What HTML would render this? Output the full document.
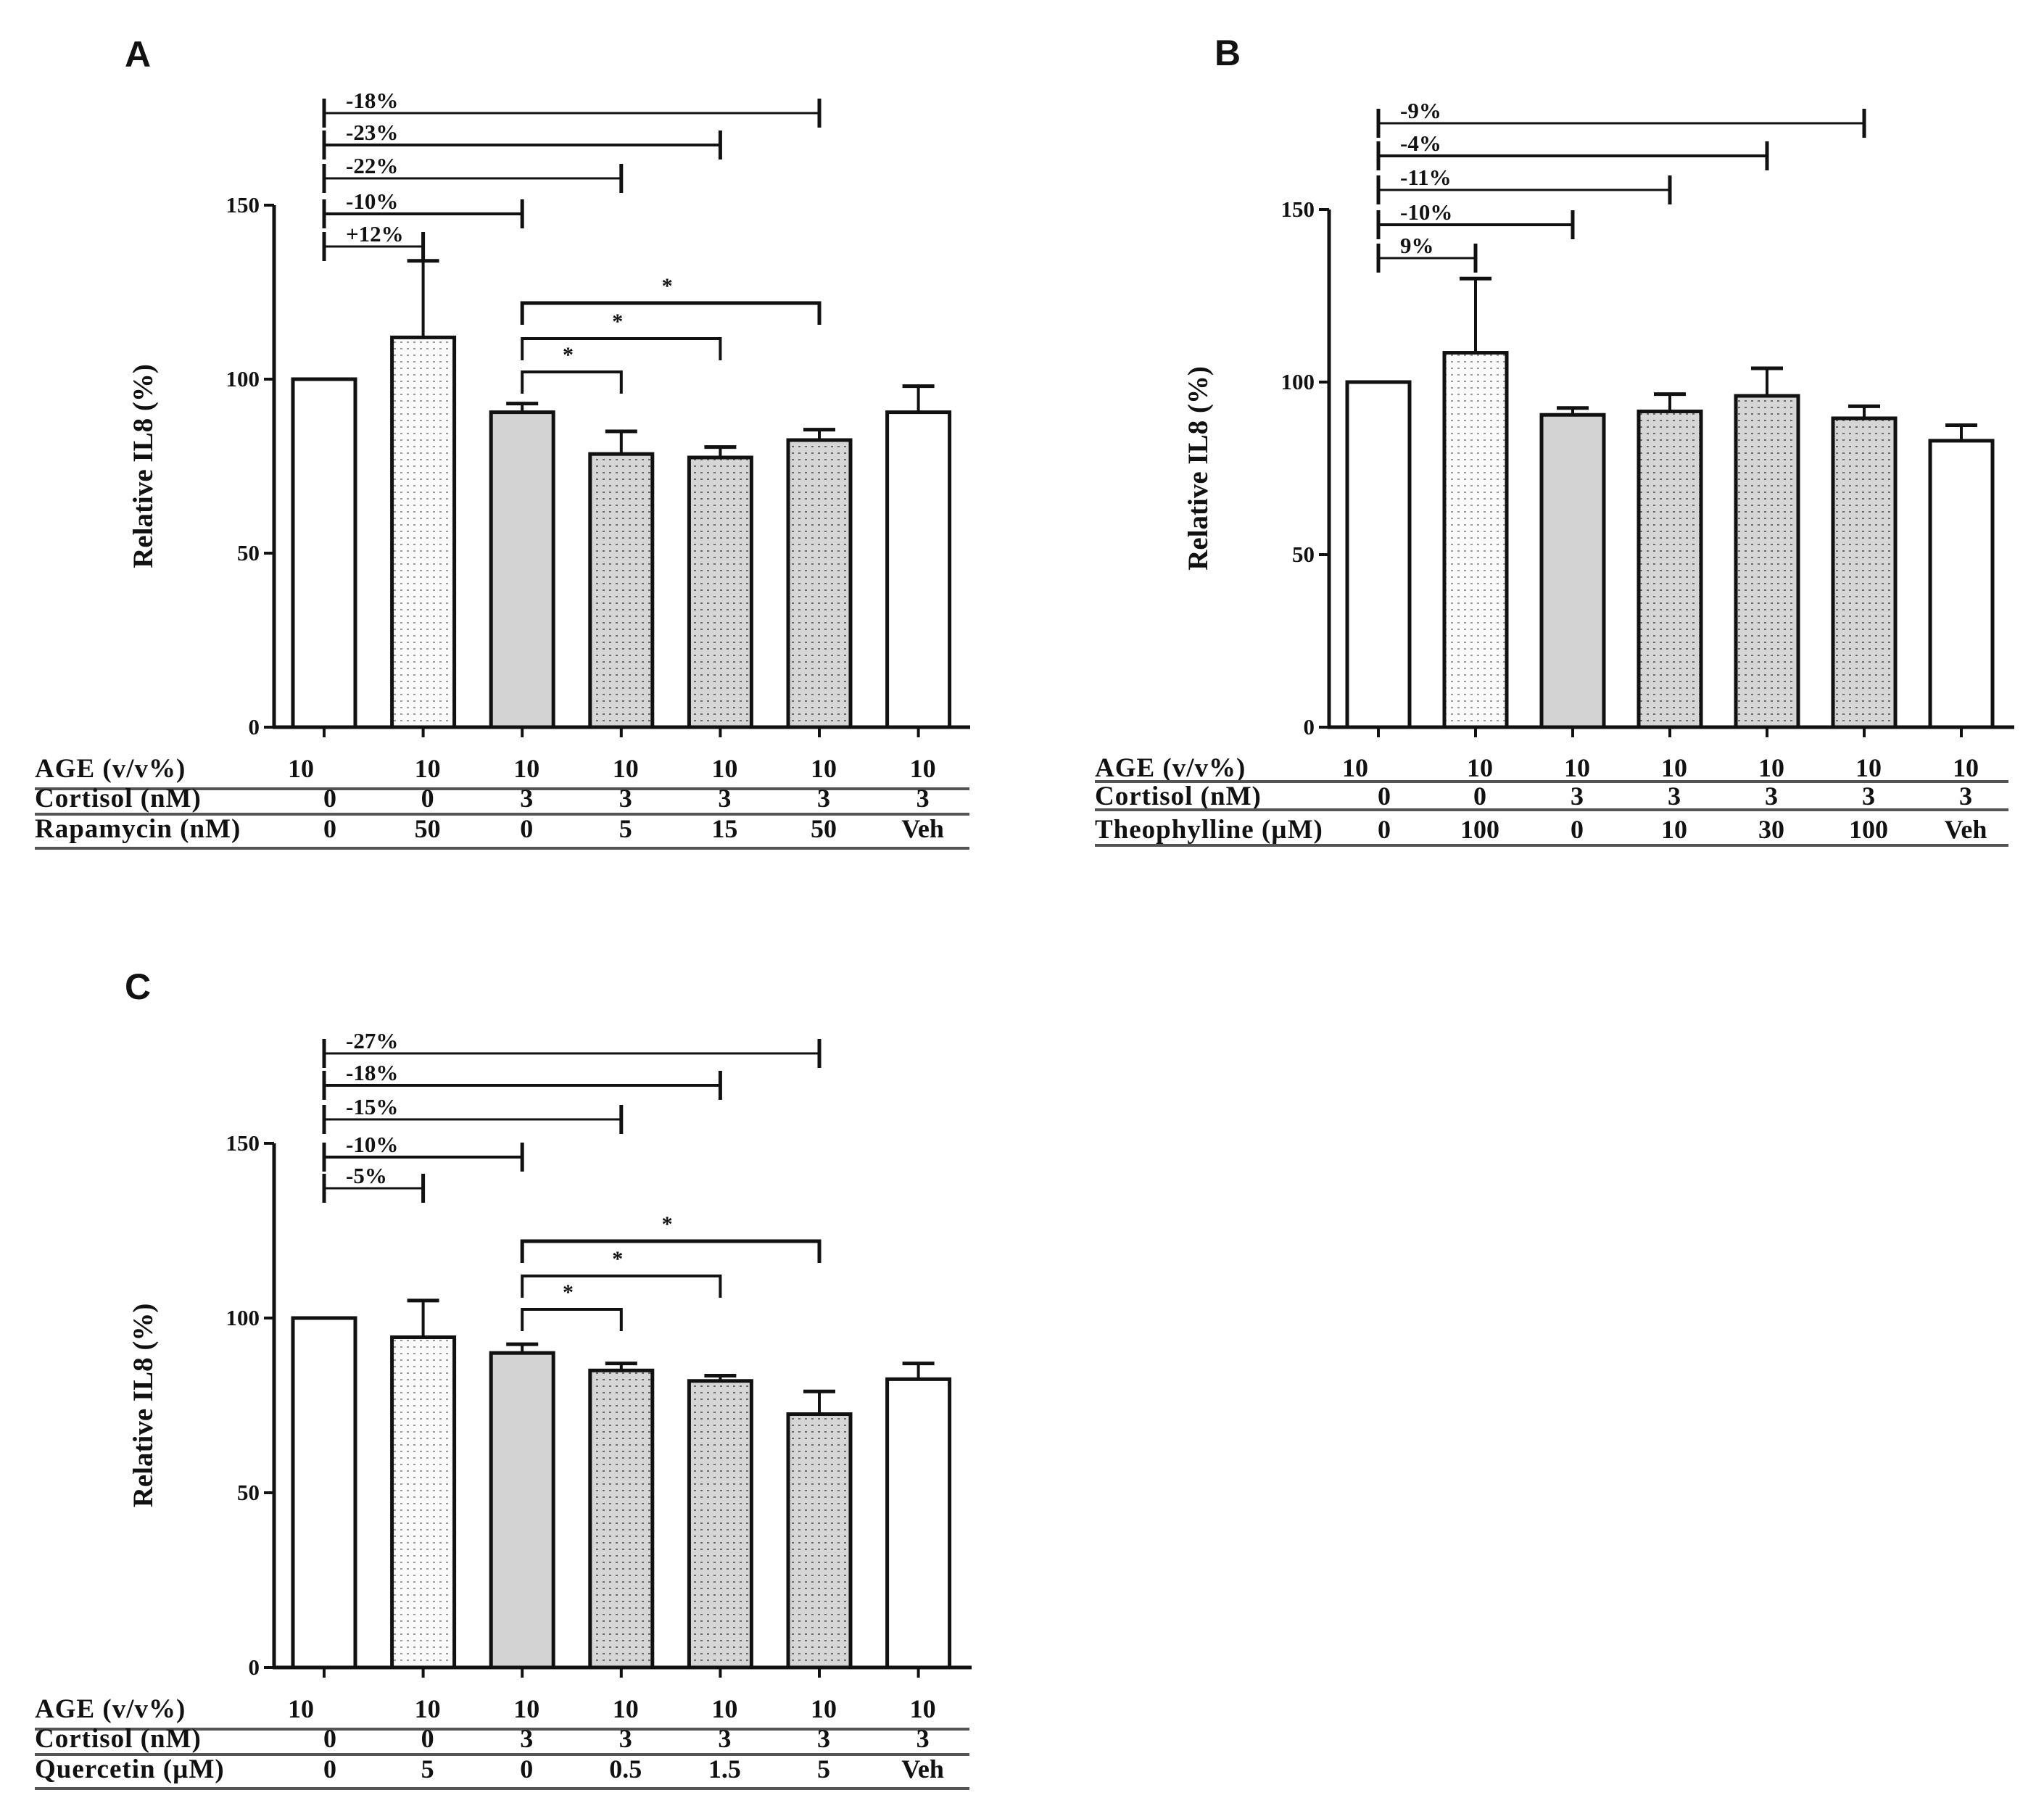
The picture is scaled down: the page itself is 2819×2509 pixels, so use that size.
<!DOCTYPE html>
<html><head><meta charset="utf-8">
<style>
html,body{margin:0;padding:0;background:#fff;}
svg{display:block;}
text{font-family:"Liberation Serif",serif;font-weight:bold;fill:#111;}
.lbl{font-family:"Liberation Sans",sans-serif;}
</style></head>
<body>
<svg id="fig" width="2819" height="2509" viewBox="0 0 2819 2509" xmlns="http://www.w3.org/2000/svg">
<defs>
<pattern id="dotsLight" width="9" height="9" patternUnits="userSpaceOnUse">
<rect width="9" height="9" fill="#fbfbfb"/><rect x="3" y="3" width="3" height="2" fill="#9a9a9a"/>
</pattern>
<pattern id="dotsDark" width="9" height="9" patternUnits="userSpaceOnUse">
<rect width="9" height="9" fill="#d6d6d6"/><rect x="3" y="3" width="3" height="2" fill="#6a6a6a"/>
</pattern>
</defs>
</svg>
<script>
// ---- Panel A data ----
const catsA = ["0","50","0","5","15","50","Veh"];
const valsA = [100,112,90.5,78.5,77.5,82.5,90.5];
const errA = [0,22,2.5,6.5,3,3,7.5];
const pctA = ["+12%","-10%","-22%","-23%","-18%"];
const ageRowA = ["10","10","10","10","10","10","10"];
const cortRowA = ["0","0","3","3","3","3","3"];
// ---- Panel B data ----
const catsB = ["0","100","0","10","30","100","Veh"];
const valsB = [100,108.5,90.5,91.5,96,89.5,83];
const errB = [0,21.5,2,5,8,3.5,4.5];
const pctB = ["9%","-10%","-11%","-4%","-9%"];
// ---- Panel C data ----
const catsC = ["0","5","0","0.5","1.5","5","Veh"];
const valsC = [100,94.5,90,85,82,72.5,82.5];
const errC = [0,10.5,2.5,2,1.5,6.5,4.5];
const pctC = ["-5%","-10%","-15%","-18%","-27%"];
const yTicks = [0,50,100,150];
const fills = ["#fff","url(#dotsLight)","#d3d3d3","url(#dotsDark)","url(#dotsDark)","url(#dotsDark)","#fff"];

const svg = document.getElementById('fig');
const NS = "http://www.w3.org/2000/svg";
function mk(tag, attrs, parent){
  const e = document.createElementNS(NS, tag);
  for (const k in attrs) e.setAttribute(k, attrs[k]);
  (parent||svg).appendChild(e);
  return e;
}
function line(g,x1,y1,x2,y2,w,c){return mk('line',{x1:x1,y1:y1,x2:x2,y2:y2,stroke:c||'#111','stroke-width':w},g);}
function txt(g,x,y,s,size,anchor){const t=mk('text',{x:x,y:y,'font-size':size,'text-anchor':anchor||'middle'},g);t.textContent=s;return t;}

function panel(P){
  const g = mk('g',{});
  
  
  const y = v => P.y0 - (P.y0 - P.y150) * v / 150;
  const x = i => P.x0 + i * P.step;
  const L = txt(g,P.letterX,P.letterY,P.letter,50,'middle');
  L.setAttribute('class','lbl');
  
  
  const ya = line(g,P.axX,y(150),P.axX,P.y0+2,5);
  
  
  yTicks.forEach(t=>{
    line(g,P.axX-14,y(t),P.axX,y(t),4);
    const tl = txt(g,P.axX-20,y(t)+10,String(t),31,'end');
    
    
  });
  const yt = txt(g,0,0,'Relative IL8 (%)',39,'middle');
  yt.setAttribute('transform','translate('+(P.axX-168)+','+(y(75))+') rotate(-90)');
  
  
  const xa = line(g,P.axX-2,P.y0,P.axEnd,P.y0,5);
  
  
  P.vals.forEach((v,i)=>{
    const cx = x(i);
    if (P.err[i] > 0) {
      const e1 = line(g,cx,y(v),cx,y(v+P.err[i]),4);
      
      
      line(g,cx-22,y(v+P.err[i]),cx+22,y(v+P.err[i]),5);
    }
    const r = mk('rect',{x:cx-43,y:y(v),width:86,height:P.y0-y(v),fill:fills[i],stroke:'#111','stroke-width':5},g);
    
    
    line(g,cx,P.y0,cx,P.y0+14,4);
  });
  P.bracketY.forEach((by,k)=>{
    const x2 = x(k+1);
    const bl = line(g,P.x0,by,x2,by,k%2?4:3);
    
    
    line(g,P.x0,by-20,P.x0,by+20,5);
    line(g,x2,by-20,x2,by+20,5);
    const pt = txt(g,P.x0+30,by-7,P.pct[k],31,'start');
    
    
  });
  if (P.starY) {
    P.starY.forEach((sy,k)=>{
      const x1 = x(2), x2 = x(3+k);
      const sl = mk('polyline',{points:[x1,sy+30,x1,sy,x2,sy,x2,sy+30].join(' '),fill:'none',stroke:'#111','stroke-width':k==2?5:4},g);
      
      
      const st = txt(g,(x1+x2)/2-5,sy-14,'*',30,'middle');
      
      
    });
  }
  const rows = [[ 'AGE (v/v%)', ageRowA ], ['Cortisol (nM)', cortRowA ], [P.drug, P.cats]];
  rows.forEach((row,r)=>{
    const by = P.tabBase[r];
    const rl = txt(g,P.tabX,by,row[0],37,'start');
    rl.setAttribute('letter-spacing','1');
    
    
    row[1].forEach((s,i)=>{
      const off = (r===0 && i===0) ? -32 : (r>0 && i===0 ? 8 : 6);
      const c = txt(g,x(i)+off,by,s,36,'middle');
      
      
    });
    const tl = line(g,P.tabX,P.tabLine[r],P.tabEnd,P.tabLine[r],4,'#555');
    
    
  });
}

panel({name:'panel-a',letter:'A',letterX:190,letterY:92,axX:378,axEnd:1338,y0:1003,y150:283,x0:447,step:136.6,
  vals:valsA,err:errA,cats:catsA,pct:pctA,bracketY:[340,295,246,200,156],starY:[513,467,418],
  drug:'Rapamycin (nM)',tabX:48,tabEnd:1337,tabBase:[1072,1113,1155],tabLine:[1088,1123,1170]});
panel({name:'panel-b',letter:'B',letterX:1693,letterY:90,axX:1833,axEnd:2778,y0:1003,y150:289,x0:1901,step:134,
  vals:valsB,err:errB,cats:catsB,pct:pctB,bracketY:[356,310,262,215,170],starY:null,
  drug:'Theophylline (\u00b5M)',tabX:1510,tabEnd:2770,tabBase:[1071,1110,1156],tabLine:[1078,1117,1166]});
panel({name:'panel-c',letter:'C',letterX:190,letterY:1378,axX:378,axEnd:1340,y0:2300,y150:1577,x0:447,step:136.6,
  vals:valsC,err:errC,cats:catsC,pct:pctC,bracketY:[1639,1596,1544,1497,1453],starY:[1806,1760,1712],
  drug:'Quercetin (\u00b5M)',tabX:48,tabEnd:1337,tabBase:[2369,2410,2452],tabLine:[2385,2420,2467]});
</script>
</body></html>
